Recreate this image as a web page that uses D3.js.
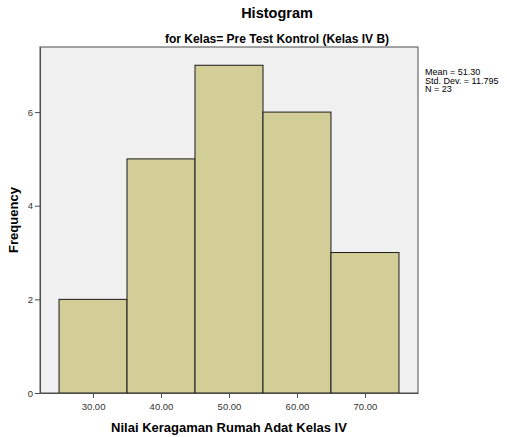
<!DOCTYPE html>
<html>
<head>
<meta charset="utf-8">
<script src="https://cdn.jsdelivr.net/npm/d3@7"></script>
<style>
  body { margin: 0; background: #fff; }
  text { font-family: "Liberation Sans", Arial, sans-serif; }
</style>
</head>
<body>
<div id="chart"></div>
<script>
// bin edges and counts
var binStart = [25, 35, 45, 55, 65]
var binEnd = [35, 45, 55, 65, 75]
var counts = [2, 5, 7, 6, 3]
var xTicks = [30, 40, 50, 60, 70]
var yTicks = [0, 2, 4, 6]
var statLines = ["Mean = 51.30", "Std. Dev. = 11.795", "N = 23"]

var W = 507, H = 437
var margin = { top: 47, right: 89, bottom: 44, left: 40 },
    width = W - margin.left - margin.right,
    height = H - margin.top - margin.bottom;

var svg = d3.select("#chart").append("svg")
    .attr("width", W).attr("height", H)

var g = svg.append("g")
    .attr("transform", "translate(" + margin.left + "," + margin.top + ")")

var x = d3.scaleLinear().domain([22.2, 77.8]).range([0, width])
var y = d3.scaleLinear().domain([0, 7.39]).range([height, 0])

// plot background
g.append("rect")
    .attr("width", width).attr("height", height)
    .attr("fill", "#f0f0f0")
    .attr("stroke", "#4d4d4d").attr("stroke-width", 1)

var bins = counts.map(function (c, i) { return { x0: binStart[i], x1: binEnd[i], n: c } })

g.selectAll(".bar")
    .data(bins)
    .enter().append("rect")
    .attr("class", "bar")
    .attr("x", function (d) { return x(d.x0) })
    .attr("y", function (d) { return y(d.n) })
    .attr("width", function (d) { return x(d.x1) - x(d.x0) })
    .attr("height", function (d) { return y(0) - y(d.n) })
    .attr("fill", "#d3ce97")
    .attr("stroke", "#1a1a1a").attr("stroke-width", 1)

// axes
var xAxis = g.append("g")
    .attr("transform", "translate(0," + height + ")")
    .call(d3.axisBottom(x).tickValues(xTicks).tickSizeInner(5).tickSizeOuter(0).tickPadding(5).tickFormat(d3.format(".2f")))
var yAxis = g.append("g")
    .call(d3.axisLeft(y).tickValues(yTicks).tickSizeInner(5).tickSizeOuter(0).tickPadding(2).tickFormat(d3.format("d")))

;[xAxis, yAxis].forEach(function (a) {
    a.select(".domain").attr("stroke", "#4d4d4d")
    a.selectAll(".tick line").attr("stroke", "#4d4d4d")
    a.selectAll(".tick text").attr("fill", "#333").style("font-size", "9.5px")
        .style("font-family", "'Liberation Sans', Arial, sans-serif")
})

// titles
svg.append("text").attr("x", 277).attr("y", 18)
    .attr("text-anchor", "middle").attr("font-weight", "bold").style("font-size", "14.5px")
    .text("Histogram")
svg.append("text").attr("x", 277).attr("y", 43)
    .attr("text-anchor", "middle").attr("font-weight", "bold").style("font-size", "12px")
    .text("for Kelas= Pre Test Kontrol (Kelas IV B)")
svg.append("text").attr("x", 229).attr("y", 432)
    .attr("text-anchor", "middle").attr("font-weight", "bold").style("font-size", "13px")
    .text("Nilai Keragaman Rumah Adat Kelas IV")
svg.append("text")
    .attr("transform", "translate(18," + (margin.top + height / 2) + ") rotate(-90)")
    .attr("text-anchor", "middle").attr("font-weight", "bold").style("font-size", "13px")
    .text("Frequency")

// stats box text
svg.selectAll(".stat")
    .data(statLines)
    .enter().append("text")
    .attr("class", "stat")
    .attr("x", 425)
    .attr("y", function (d, i) { return 75 + i * 8.5 })
    .style("font-size", "9px")
    .text(function (d) { return d })
</script>
</body>
</html>
